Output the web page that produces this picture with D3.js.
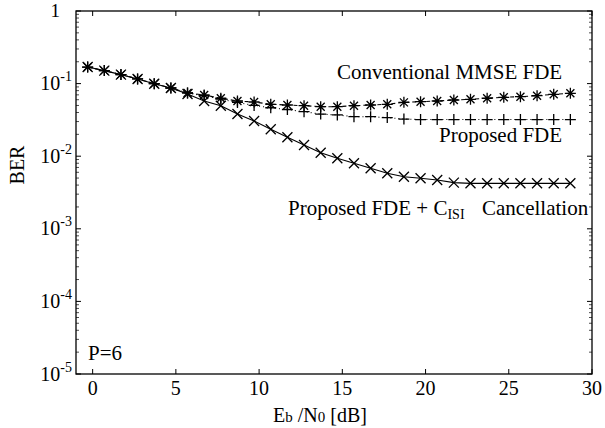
<!DOCTYPE html>
<html>
<head>
<meta charset="utf-8">
<script src="https://cdn.jsdelivr.net/npm/d3@7"></script>
<style>
  body { margin: 0; background: #fff; }
  text { font-family: "Liberation Serif", "Times New Roman", serif; fill: #000; }
</style>
</head>
<body>
<div id="chart"></div>
<script>
// Eb/N0 points (dB)
const snr = [-0.3, 0.7, 1.7, 2.7, 3.7, 4.7, 5.7, 6.7, 7.7, 8.7, 9.7, 10.7, 11.7, 12.7, 13.7,
  14.7, 15.7, 16.7, 17.7, 18.7, 19.7, 20.7, 21.7, 22.7, 23.7, 24.7, 25.7, 26.7, 27.7, 28.7];

const berConventional = [0.169, 0.151, 0.133, 0.116, 0.0997, 0.087, 0.0743, 0.0697, 0.0628, 0.0576,
  0.0558, 0.0519, 0.0507, 0.0496, 0.0481, 0.0481, 0.0496, 0.0507, 0.0519, 0.0552,
  0.0563, 0.0576, 0.0594, 0.0608, 0.0628, 0.0648, 0.066, 0.0681, 0.0712, 0.0735];

const berProposed = [0.169, 0.151, 0.133, 0.116, 0.0997, 0.087, 0.0743, 0.068, 0.061, 0.055,
  0.05, 0.0465, 0.044, 0.041, 0.038, 0.037, 0.035, 0.035, 0.034, 0.0325,
  0.032, 0.032, 0.032, 0.032, 0.032, 0.032, 0.032, 0.032, 0.032, 0.032];

const berCancel = [0.169, 0.151, 0.133, 0.116, 0.0997, 0.087, 0.072, 0.0576, 0.0495, 0.0381,
  0.0305, 0.0235, 0.0182, 0.01426, 0.01117, 0.00935, 0.00798, 0.00681, 0.00581, 0.00522,
  0.00496, 0.0047, 0.00432, 0.00423, 0.00423, 0.00423, 0.00423, 0.00423, 0.00423, 0.00423];

const xTicks = [0, 5, 10, 15, 20, 25, 30];
const yExponents = [-5, -4, -3, -2, -1, 0];

// Set the dimensions and margins
var margin = { top: 11, right: 13, bottom: 54, left: 76 },
  width = 605 - margin.left - margin.right,
  height = 428 - margin.top - margin.bottom;

const svg = d3
  .select("#chart")
  .append("svg")
  .attr("width", 605)
  .attr("height", 428);

const g = svg.append("g")
  .attr("transform", "translate(" + margin.left + "," + margin.top + ")");

const x = d3.scaleLinear().domain([-1, 30]).range([0, width]);
const y = d3.scaleLog().domain([1e-5, 1]).range([height, 0]);

// frame
g.append("rect")
  .attr("width", width)
  .attr("height", height)
  .attr("fill", "none")
  .attr("stroke", "#000")
  .attr("stroke-width", 1.3);

// ticks, inward on all four sides
const major = 5, minor = 3;
xTicks.forEach((t) => {
  g.append("line").attr("x1", x(t)).attr("x2", x(t)).attr("y1", height).attr("y2", height - major).attr("stroke", "#000");
  g.append("line").attr("x1", x(t)).attr("x2", x(t)).attr("y1", 0).attr("y2", major).attr("stroke", "#000");
  g.append("text")
    .attr("x", x(t))
    .attr("y", height + 21)
    .attr("text-anchor", "middle")
    .attr("font-size", 20)
    .text(t);
});

yExponents.forEach((e) => {
  const v = Math.pow(10, e);
  g.append("line").attr("x1", 0).attr("x2", major).attr("y1", y(v)).attr("y2", y(v)).attr("stroke", "#000");
  g.append("line").attr("x1", width).attr("x2", width - major).attr("y1", y(v)).attr("y2", y(v)).attr("stroke", "#000");
  if (e < 0) {
    for (let k = 2; k <= 9; k++) {
      const mv = k * v;
      g.append("line").attr("x1", 0).attr("x2", minor).attr("y1", y(mv)).attr("y2", y(mv)).attr("stroke", "#000").attr("stroke-width", 0.7);
      g.append("line").attr("x1", width).attr("x2", width - minor).attr("y1", y(mv)).attr("y2", y(mv)).attr("stroke", "#000").attr("stroke-width", 0.7);
    }
  }
  if (e === 0) {
    g.append("text")
      .attr("x", -16)
      .attr("y", y(v) + 6)
      .attr("text-anchor", "end")
      .attr("font-size", 19)
      .text("1");
  } else {
    const lab = g.append("text")
      .attr("x", -4)
      .attr("y", y(v) + 6.5)
      .attr("text-anchor", "end")
      .attr("font-size", 20);
    lab.append("tspan").text("10");
    lab.append("tspan").attr("font-size", 14).attr("dy", -9).text(String(e));
  }
});

// series
const series = [
  { values: berConventional, dash: "4,3", marker: "star" },
  { values: berProposed, dash: "1,3", marker: "plus" },
  { values: berCancel, dash: null, marker: "cross" },
];

const line = d3.line()
  .x((d) => x(d[0]))
  .y((d) => y(d[1]));

function markerPath(type) {
  const r = 5.5, c = 4;
  const p = "M" + -r + ",0L" + r + ",0M0," + -r + "L0," + r;
  const xx = "M" + -c + "," + -c + "L" + c + "," + c + "M" + -c + "," + c + "L" + c + "," + -c;
  if (type === "plus") return p;
  if (type === "cross") return "M-5,-5L5,5M-5,5L5,-5";
  return p + xx;
}

series.forEach((s) => {
  const pts = snr.map((v, i) => [v, s.values[i]]);
  g.append("path")
    .datum(pts)
    .attr("fill", "none")
    .attr("stroke", "#000")
    .attr("stroke-width", 1.1)
    .attr("stroke-dasharray", s.dash)
    .attr("d", line);
  g.selectAll(null)
    .data(pts)
    .enter()
    .append("path")
    .attr("transform", (d) => "translate(" + x(d[0]) + "," + y(d[1]) + ")")
    .attr("d", markerPath(s.marker))
    .attr("fill", "none")
    .attr("stroke", "#000")
    .attr("stroke-width", 1.3);
});

// annotations (page coords)
svg.append("text").attr("x", 337).attr("y", 79).attr("font-size", 21).text("Conventional MMSE FDE");
svg.append("text").attr("x", 439).attr("y", 142).attr("font-size", 21).text("Proposed FDE");
const ann = svg.append("text").attr("x", 288).attr("y", 215).attr("font-size", 21);
ann.append("tspan").text("Proposed FDE + C");
ann.append("tspan").attr("font-size", 14).attr("dy", 4).text("ISI");
ann.append("tspan").attr("dy", -4).attr("x", 482).text("Cancellation");

svg.append("text").attr("x", 88).attr("y", 360).attr("font-size", 21).text("P=6");

// axis labels
const xl = svg.append("text").attr("x", 320).attr("y", 422).attr("text-anchor", "middle").attr("font-size", 20);
xl.append("tspan").text("E");
xl.append("tspan").attr("font-size", 15).text("b");
xl.append("tspan").text(" /N");
xl.append("tspan").attr("font-size", 15).text("0");
xl.append("tspan").text("  [dB]");

svg.append("text")
  .attr("transform", "translate(24,165) rotate(-90)")
  .attr("text-anchor", "middle")
  .attr("font-size", 20)
  .text("BER");
</script>
</body>
</html>
